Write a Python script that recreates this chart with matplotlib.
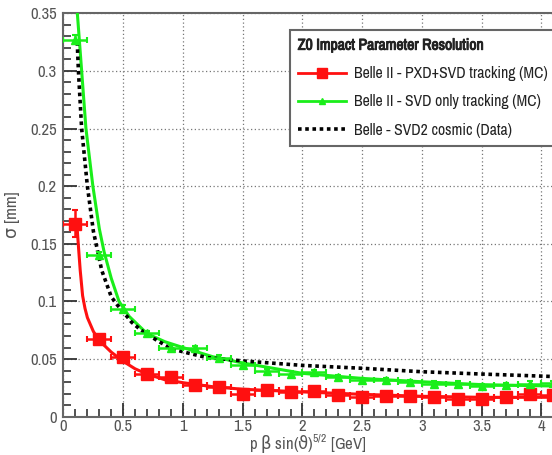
import matplotlib
matplotlib.use('Agg')
from matplotlib import pyplot as plt
from matplotlib import patheffects
from matplotlib.lines import Line2D
from matplotlib.ticker import MultipleLocator

# measured points (bin centres, x half-width 0.1)
x_bins = [0.1, 0.3, 0.5, 0.7, 0.9, 1.1, 1.3, 1.5, 1.7, 1.9, 2.1,
          2.3, 2.5, 2.7, 2.9, 3.1, 3.3, 3.5, 3.7, 3.9, 4.1]
x_err = [0.1] * len(x_bins)
pxd_svd = [0.1675, 0.067, 0.052, 0.037, 0.0345, 0.0275, 0.026, 0.020, 0.023, 0.0215, 0.0222,
           0.0186, 0.017, 0.018, 0.0183, 0.017, 0.015, 0.015, 0.017, 0.020, 0.0186]
pxd_svd_err = [0.012, 0.003, 0.003, 0.002, 0.002, 0.002, 0.002, 0.002, 0.002, 0.002, 0.002,
               0.002, 0.002, 0.002, 0.002, 0.002, 0.002, 0.002, 0.002, 0.002, 0.002]
svd_only = [0.327, 0.140, 0.0937, 0.0726, 0.060, 0.0596, 0.0513, 0.0446, 0.0397, 0.0374, 0.0388,
            0.0345, 0.0316, 0.0316, 0.0301, 0.0287, 0.0287, 0.0267, 0.0272, 0.0287, 0.029]
svd_only_err = [0.004, 0.003, 0.003, 0.002, 0.002, 0.002, 0.002, 0.002, 0.002, 0.002, 0.002,
                0.002, 0.002, 0.002, 0.002, 0.002, 0.002, 0.002, 0.002, 0.002, 0.002]

# fitted curves
red_fit_x = [0.11, 0.125, 0.14, 0.16, 0.18, 0.2, 0.25, 0.3, 0.4, 0.5, 0.6, 0.7, 0.85, 1.0,
             1.25, 1.5, 2.0, 2.5, 3.0, 3.5, 4.0, 4.2]
red_fit_y = [0.17, 0.148, 0.127, 0.105, 0.094, 0.086, 0.074, 0.066, 0.056, 0.048, 0.0415, 0.037,
             0.032, 0.0295, 0.026, 0.0238, 0.0215, 0.0194, 0.0177, 0.0168, 0.0168, 0.017]
green_fit_x = [0.116, 0.152, 0.188, 0.246, 0.30, 0.34, 0.40, 0.465, 0.55, 0.7, 0.85, 1.0,
               1.25, 1.5, 2.0, 2.5, 3.0, 3.5, 4.0, 4.2]
green_fit_y = [0.35, 0.30, 0.25, 0.20, 0.163, 0.143, 0.12, 0.10, 0.087, 0.072, 0.065, 0.060,
               0.052, 0.0466, 0.0376, 0.0332, 0.0303, 0.0278, 0.0268, 0.0265]
belle_x = [0.115, 0.125, 0.152, 0.2, 0.25, 0.32, 0.4, 0.45, 0.5, 0.57, 0.65, 0.77, 0.9, 1.05,
           1.2, 1.5, 2.0, 2.5, 3.0, 3.5, 4.0, 4.2]
belle_y = [0.325, 0.30, 0.25, 0.20, 0.161, 0.127, 0.104, 0.097, 0.091, 0.082, 0.075, 0.067,
           0.059, 0.055, 0.0513, 0.0484, 0.0445, 0.042, 0.039, 0.037, 0.0352, 0.0345]

labels = ['Belle II - PXD+SVD tracking (MC)',
          'Belle II - SVD only tracking (MC)',
          'Belle - SVD2 cosmic (Data)']

RED = '#ff1010'
GREEN = '#1aee1a'

plt.rcParams['font.family'] = ['Archivo Narrow', 'Liberation Sans', 'DejaVu Sans']
plt.rcParams['mathtext.fontset'] = 'custom'
plt.rcParams['mathtext.rm'] = 'Archivo Narrow'
plt.rcParams['mathtext.sf'] = 'DejaVu Sans'
plt.rcParams['mathtext.fallback'] = 'stixsans'

fig = plt.figure(figsize=(5.52, 4.55), dpi=100)
ax = fig.add_axes([0.115, 0.0842, 0.885, 0.8866])

ax.plot(red_fit_x, red_fit_y, color=RED, lw=2.2, zorder=3)
ax.plot(green_fit_x, green_fit_y, color=GREEN, lw=2.2, zorder=3)
ax.plot(belle_x, belle_y, color='black', lw=2.6, linestyle=(0, (1, 1)), zorder=4)

ax.errorbar(x_bins, pxd_svd, xerr=x_err, yerr=pxd_svd_err, fmt='s', color=RED, ms=8.5,
            elinewidth=1.8, capsize=2.5, capthick=1.5, zorder=5)
ax.errorbar(x_bins, svd_only, xerr=x_err, yerr=svd_only_err, fmt='^', color=GREEN, ms=6,
            elinewidth=1.8, capsize=2.5, capthick=1.5, zorder=5)

ax.set_xlim(0, 4.088)
ax.set_ylim(0, 0.35)
ax.xaxis.set_minor_locator(MultipleLocator(0.1))
ax.yaxis.set_minor_locator(MultipleLocator(0.01))
ax.set_xticks([0, 0.5, 1, 1.5, 2, 2.5, 3, 3.5, 4])
ax.set_xticklabels(['0', '0.5', '1', '1.5', '2', '2.5', '3', '3.5', '4'])
ax.set_yticks([0, 0.05, 0.1, 0.15, 0.2, 0.25, 0.3, 0.35])
ax.set_yticklabels(['0', '0.05', '0.1', '0.15', '0.2', '0.25', '0.3', '0.35'])
ax.tick_params(which='both', direction='in', top=False, right=False, colors='#333333',
               labelsize=12, labelcolor='#555555')
ax.tick_params(which='major', length=10, width=1.3, pad=5)
ax.tick_params(axis='x', which='major', pad=2)
ax.tick_params(which='minor', length=6, width=1.2)
ax.grid(which='major', linestyle=(0, (1, 2)), color='#777777', lw=0.9)

for side in ['left', 'bottom', 'top']:
    ax.spines[side].set_color('#666666')
    ax.spines[side].set_linewidth(1.5)
ax.spines['right'].set_visible(False)

ax.set_ylabel('σ [mm]', fontsize=12.5, color='#555555', labelpad=7,
              family=['Archivo Narrow', 'DejaVu Sans'])
ax.set_xlabel(r'p $\mathsf{\beta}$ sin($\mathsf{\vartheta}$)$^{5/2}$ [GeV]', fontsize=12,
              color='#555555', labelpad=-1)

handles = [Line2D([], [], color=RED, lw=2, marker='s', ms=7),
           Line2D([], [], color=GREEN, lw=2, marker='^', ms=5),
           Line2D([], [], color='black', lw=2.6, linestyle=(0, (1, 1)))]
leg = ax.legend(handles, labels, title='Z0 Impact Parameter Resolution',
                loc='upper left', bbox_to_anchor=(282 / 552, 1 - 22 / 455),
                bbox_transform=fig.transFigure, fontsize=11.3, title_fontsize=11.3,
                alignment='left', fancybox=False, framealpha=1, edgecolor='#666666',
                handlelength=3.1, borderpad=0.5, labelspacing=0.85, handletextpad=0.5)
leg.get_frame().set_linewidth(1.5)
for t in leg.get_texts():
    t.set_color('#222222')
leg.get_title().set_color('#222222')
leg.get_title().set_path_effects([patheffects.withStroke(linewidth=0.7, foreground='#222222')])
leg.set_zorder(10)

fig.savefig('out.png', dpi=100)
